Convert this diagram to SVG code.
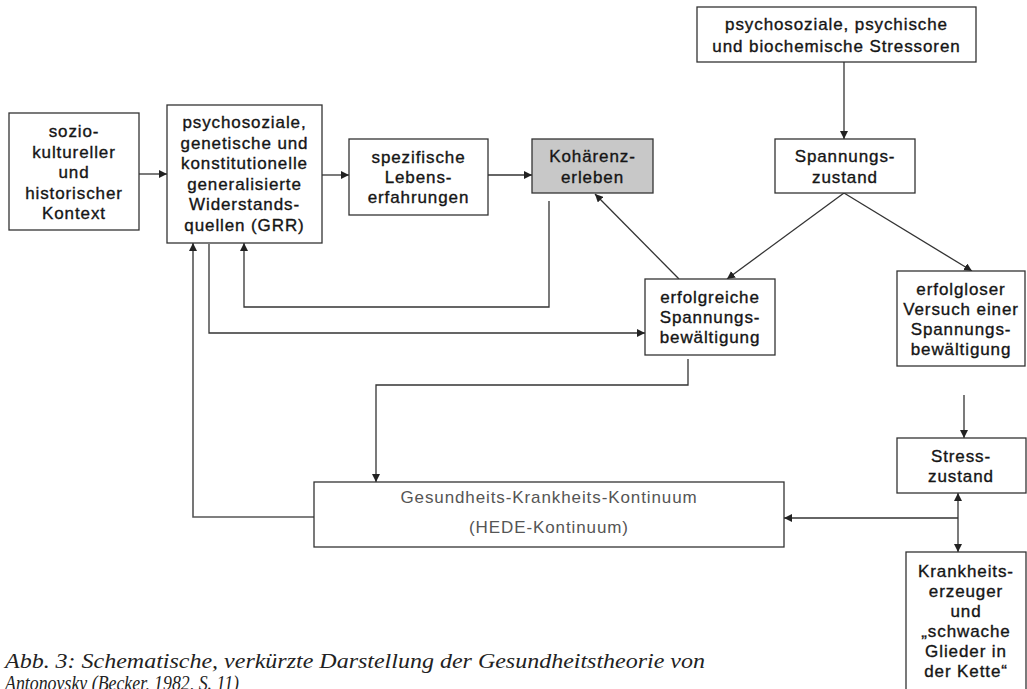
<svg xmlns="http://www.w3.org/2000/svg" width="1027" height="689" viewBox="0 0 1027 689">
<style>
.box{fill:#fff;stroke:#333;stroke-width:1.3}
.gray{fill:#c8c8c8;stroke:#333;stroke-width:1.3}
.t{font-family:"Liberation Sans",Arial,sans-serif;font-size:17px;letter-spacing:0.9px;fill:#151515;stroke:#151515;stroke-width:0.35;text-anchor:middle}
.tg{font-family:"Liberation Sans",Arial,sans-serif;font-size:17px;letter-spacing:0.9px;fill:#555;text-anchor:middle}
.c{fill:none;stroke:#333;stroke-width:1.3}
.cap{font-family:"Liberation Serif","Times New Roman",serif;font-style:italic;font-size:20px;fill:#222}
</style>
<defs>
<marker id="ah" viewBox="0 0 10 10" refX="10" refY="5" markerWidth="8" markerHeight="8" markerUnits="userSpaceOnUse" orient="auto">
<path d="M0,0 L10,5 L0,10 z" fill="#222"/>
</marker>
</defs>
<rect width="1027" height="689" fill="#fff"/>

<g id="connectors">
<line class="c" x1="139" y1="174" x2="167" y2="174" marker-end="url(#ah)"/>
<line class="c" x1="322" y1="175" x2="349" y2="175" marker-end="url(#ah)"/>
<line class="c" x1="488" y1="175" x2="532" y2="175" marker-end="url(#ah)"/>
<line class="c" x1="844" y1="62" x2="844" y2="139" marker-end="url(#ah)"/>
<line class="c" x1="844" y1="193" x2="727" y2="279" marker-end="url(#ah)"/>
<line class="c" x1="844" y1="193" x2="972" y2="271" marker-end="url(#ah)"/>
<line class="c" x1="679" y1="279" x2="595" y2="194" marker-end="url(#ah)"/>
<polyline class="c" points="549,201 549,307 244,307 244,243" marker-end="url(#ah)"/>
<polyline class="c" points="209,244 209,333 645,333" marker-end="url(#ah)"/>
<polyline class="c" points="688,359 688,385 376,385 376,482" marker-end="url(#ah)"/>
<polyline points="314,517 193,517 193,243" fill="none" stroke="#555" stroke-width="1.6" marker-end="url(#ah)"/>
<line class="c" x1="964" y1="395" x2="964" y2="438" marker-end="url(#ah)"/>
<line class="c" x1="958" y1="518" x2="958" y2="493" marker-end="url(#ah)"/>
<line class="c" x1="958" y1="518" x2="958" y2="552" marker-end="url(#ah)"/>
<line class="c" x1="958" y1="518" x2="784" y2="518" marker-end="url(#ah)"/>
</g>

<g id="kontext">
<rect class="box" x="9" y="113" width="130" height="117"/>
<text class="t" x="74" y="137">sozio-</text>
<text class="t" x="74" y="157.5">kultureller</text>
<text class="t" x="74" y="178">und</text>
<text class="t" x="74" y="198.5">historischer</text>
<text class="t" x="74" y="219">Kontext</text>
</g>

<g id="grr">
<rect class="box" x="167" y="105" width="155" height="138"/>
<text class="t" x="244.5" y="128">psychosoziale,</text>
<text class="t" x="244.5" y="148.5">genetische und</text>
<text class="t" x="244.5" y="169">konstitutionelle</text>
<text class="t" x="244.5" y="189.5">generalisierte</text>
<text class="t" x="244.5" y="210">Widerstands-</text>
<text class="t" x="244.5" y="230.5">quellen (GRR)</text>
</g>

<g id="lebenserfahrungen">
<rect class="box" x="349" y="139" width="139" height="76"/>
<text class="t" x="418.5" y="163">spezifische</text>
<text class="t" x="418.5" y="183">Lebens-</text>
<text class="t" x="418.5" y="203">erfahrungen</text>
</g>

<g id="kohaerenz">
<rect class="gray" x="532" y="139" width="121" height="54"/>
<text class="t" x="592.5" y="162">Kohärenz-</text>
<text class="t" x="592.5" y="183">erleben</text>
</g>

<g id="stressoren">
<rect class="box" x="697" y="7" width="279" height="55"/>
<text class="t" x="836.5" y="30">psychosoziale, psychische</text>
<text class="t" x="836.5" y="52">und biochemische Stressoren</text>
</g>

<g id="spannungszustand">
<rect class="box" x="775" y="139" width="140" height="54"/>
<text class="t" x="845" y="162">Spannungs-</text>
<text class="t" x="845" y="183">zustand</text>
</g>

<g id="erfolgreich">
<rect class="box" x="645" y="279" width="130" height="76"/>
<text class="t" x="710" y="303">erfolgreiche</text>
<text class="t" x="710" y="323">Spannungs-</text>
<text class="t" x="710" y="343">bewältigung</text>
</g>

<g id="erfolglos">
<rect class="box" x="897" y="271" width="128" height="95"/>
<text class="t" x="961" y="295">erfolgloser</text>
<text class="t" x="961" y="315">Versuch einer</text>
<text class="t" x="961" y="335">Spannungs-</text>
<text class="t" x="961" y="355">bewältigung</text>
</g>

<g id="stresszustand">
<rect class="box" x="897" y="438" width="129" height="55"/>
<text class="t" x="961" y="462">Stress-</text>
<text class="t" x="961" y="482">zustand</text>
</g>

<g id="kontinuum">
<rect class="box" x="314" y="482" width="470" height="65"/>
<text class="tg" x="549" y="503">Gesundheits-Krankheits-Kontinuum</text>
<text class="tg" x="549" y="533">(HEDE-Kontinuum)</text>
</g>

<g id="krankheitserzeuger">
<rect class="box" x="906" y="552" width="120" height="145"/>
<text class="t" x="966" y="577">Krankheits-</text>
<text class="t" x="966" y="597">erzeuger</text>
<text class="t" x="966" y="617">und</text>
<text class="t" x="966" y="637">„schwache</text>
<text class="t" x="966" y="657">Glieder in</text>
<text class="t" x="966" y="677">der Kette“</text>
</g>

<g id="caption">
<text class="cap" x="5" y="668" textLength="700" lengthAdjust="spacingAndGlyphs">Abb. 3: Schematische, verkürzte Darstellung der Gesundheitstheorie von</text>
<text class="cap" x="5" y="690" textLength="234" lengthAdjust="spacingAndGlyphs">Antonovsky (Becker, 1982, S. 11)</text>
</g>
</svg>
